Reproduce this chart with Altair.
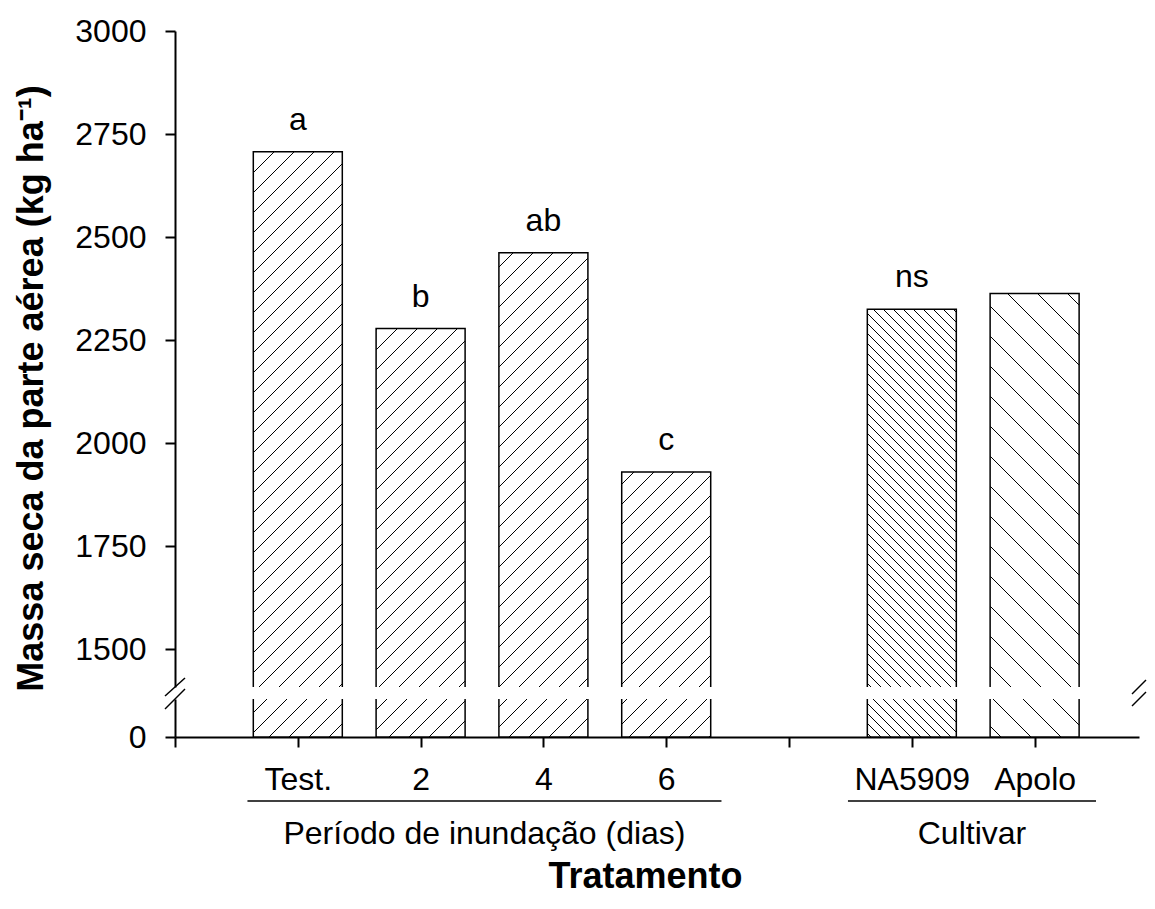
import altair as alt
import pandas as pd
import numpy as np

# ---------------- data ----------------
categories = ["Test.", "2", "4", "6", "NA5909", "Apolo"]
slot = [1, 2, 3, 4, 6, 7]
massa = [2707, 2278, 2462, 1930, 2325, 2363]
letras = ["a", "b", "ab", "c", "ns", ""]

grupos = ["Período de inundação (dias)", "Cultivar"]
grupo_ini = [0.59, 5.48]
grupo_fim = [4.45, 7.50]

tick_slots = [0, 1, 2, 3, 4, 5, 6, 7]
tick_labels = ["", "Test.", "2", "4", "6", "", "NA5909", "Apolo"]
y_ticks_top = [1500, 1750, 2000, 2250, 2500, 2750, 3000]
y_ticks_bot = [0]

# ---------------- style ----------------
hatch_dir = [1, 1, 1, 1, -1, -1]       # 1 = "/", -1 = "\"
hatch_gap = [20, 20, 20, 20, 10, 30]   # horizontal spacing in px

FONT = "Liberation Sans"
W = 964
XMAX = 7.85
STEP = W / XMAX
H_TOP = 656
Y_TOP = (1408, 3000)
H_BOT = 38
Y_BOT = (0, 92)
GAP = 12
BAR_PX = 89
half = BAR_PX / 2 / STEP

bars = pd.DataFrame({"cat": categories, "slot": slot, "massa": massa, "letra": letras})
bars["x0"] = bars["slot"] - half
bars["x1"] = bars["slot"] + half

groups = pd.DataFrame({"g": grupos, "ini": grupo_ini, "fim": grupo_fim})
groups["mid"] = (groups["ini"] + groups["fim"]) / 2


def hatch(ylo, yhi, H, offset):
    rows = []
    kpx = H / (yhi - ylo)
    for s, v, d, g in zip(slot, massa, hatch_dir, hatch_gap):
        xl = (s - half) * STEP
        xr = (s + half) * STEP
        top_val = min(v, yhi)
        yt = (yhi - top_val) * kpx + offset
        yb = H + offset
        if yt >= yb:
            continue
        if d == 1:
            cmin, cmax = xl + yt, xr + yb
        else:
            cmin, cmax = xl - yb, xr - yt
        c = np.ceil(cmin / g) * g
        while c <= cmax:
            if d == 1:
                xa = max(xl, c - yb)
                xb = min(xr, c - yt)
                ya, yb2 = c - xa, c - xb
            else:
                xa = max(xl, c + yt)
                xb = min(xr, c + yb)
                ya, yb2 = xa - c, xb - c
            if xb - xa > 0.5:
                rows.append(dict(hx=xa / STEP, hx2=xb / STEP,
                                 hy=yhi - (ya - offset) / kpx,
                                 hy2=yhi - (yb2 - offset) / kpx))
            c += g
    return pd.DataFrame(rows)


hatch_top = hatch(Y_TOP[0], Y_TOP[1], H_TOP, 0)
hatch_bot = hatch(Y_BOT[0], Y_BOT[1], H_BOT, H_TOP + GAP)

xscale = alt.Scale(domain=[0, XMAX], nice=False, zero=False)
top_y = alt.Scale(domain=list(Y_TOP), nice=False, zero=False)
bot_y = alt.Scale(domain=list(Y_BOT), nice=False, zero=False)

axis_style = dict(
    domainColor="black", domainWidth=2, tickColor="black", tickWidth=2,
    tickSize=10, labelFont=FONT, labelFontSize=32, labelColor="black",
    grid=False, labelFlush=False, labelOverlap=False,
)
label_expr = "[" + ",".join("'" + t + "'" for t in tick_labels) + "][datum.value]"

top_y_axis = alt.Axis(values=y_ticks_top, format="d", labelPadding=19,
                      title="Massa seca da parte aérea (kg ha⁻¹)",
                      titleFont=FONT, titleFontSize=36, titleFontWeight="bold",
                      titleColor="black", titlePadding=24, titleY=357,
                      **axis_style)
bot_y_axis = alt.Axis(values=y_ticks_bot, format="d", labelPadding=19, title=None, **axis_style)
bot_x_axis = alt.Axis(values=tick_slots, labelExpr=label_expr, labelPadding=17,
                      title="Tratamento", titleFont=FONT, titleFontSize=36,
                      titleFontWeight="bold", titleColor="black", titlePadding=64,
                      titleX=470, **axis_style)

one = pd.DataFrame({"k": [0]})

# ---------------- top panel ----------------
top_bars = alt.Chart(bars).mark_bar(fill="white", stroke="black", strokeWidth=1.5, clip=True).encode(
    x=alt.X("x0:Q", scale=xscale, axis=None),
    x2="x1:Q",
    y=alt.Y("massa:Q", scale=top_y, axis=top_y_axis),
    y2=alt.datum(0),
)
top_hatch = alt.Chart(hatch_top).mark_rule(color="black", strokeWidth=1, clip=True).encode(
    x=alt.X("hx:Q", scale=xscale, axis=None), x2="hx2:Q",
    y=alt.Y("hy:Q", scale=top_y, axis=top_y_axis), y2="hy2:Q",
)
top_text = alt.Chart(bars).mark_text(dy=-22, fontSize=32, font=FONT, baseline="alphabetic", color="black").encode(
    x=alt.X("slot:Q", scale=xscale, axis=None),
    y=alt.Y("massa:Q", scale=top_y, axis=top_y_axis),
    text="letra:N",
)
brk_l_top = alt.Chart(one).mark_rule(color="black", strokeWidth=1.5).encode(
    x=alt.value(-10), x2=alt.value(10), y=alt.value(H_TOP + 9), y2=alt.value(H_TOP - 9))
brk_r_top = alt.Chart(one).mark_rule(color="black", strokeWidth=1.5).encode(
    x=alt.value(W - 7), x2=alt.value(W + 7), y=alt.value(H_TOP + 7), y2=alt.value(H_TOP - 7))

top = alt.layer(top_bars, top_hatch, top_text, brk_l_top, brk_r_top).properties(width=W, height=H_TOP)

# ---------------- bottom panel ----------------
bot_bars = alt.Chart(bars).mark_bar(fill="white", stroke="black", strokeWidth=1.5, clip=True).encode(
    x=alt.X("x0:Q", scale=xscale, axis=bot_x_axis),
    x2="x1:Q",
    y=alt.Y("massa:Q", scale=bot_y, axis=bot_y_axis),
    y2=alt.datum(0),
)
bot_hatch = alt.Chart(hatch_bot).mark_rule(color="black", strokeWidth=1, clip=True).encode(
    x=alt.X("hx:Q", scale=xscale, axis=bot_x_axis), x2="hx2:Q",
    y=alt.Y("hy:Q", scale=bot_y, axis=bot_y_axis), y2="hy2:Q",
)
grp_rule = alt.Chart(groups).mark_rule(color="black", strokeWidth=1.5).encode(
    x=alt.X("ini:Q", scale=xscale, axis=bot_x_axis), x2="fim:Q", y=alt.value(102),
)
grp_text = alt.Chart(groups).mark_text(fontSize=32, font=FONT, baseline="alphabetic", color="black").encode(
    x=alt.X("mid:Q", scale=xscale, axis=bot_x_axis), y=alt.value(145), text="g:N",
)
brk_l_bot = alt.Chart(one).mark_rule(color="black", strokeWidth=1.5).encode(
    x=alt.value(-10), x2=alt.value(10), y=alt.value(10), y2=alt.value(-10))
brk_r_bot = alt.Chart(one).mark_rule(color="black", strokeWidth=1.5).encode(
    x=alt.value(W - 7), x2=alt.value(W + 7), y=alt.value(7), y2=alt.value(-7))

bottom = alt.layer(bot_bars, bot_hatch, grp_rule, grp_text, brk_l_bot, brk_r_bot).properties(width=W, height=H_BOT)

chart = alt.vconcat(top, bottom, spacing=GAP, bounds="flush").properties(
    padding={"left": 5, "top": 7, "right": 0, "bottom": 5},
    background="white",
).configure_view(stroke=None)

chart.save("out.html", embed_options={"renderer": "svg", "actions": False})
